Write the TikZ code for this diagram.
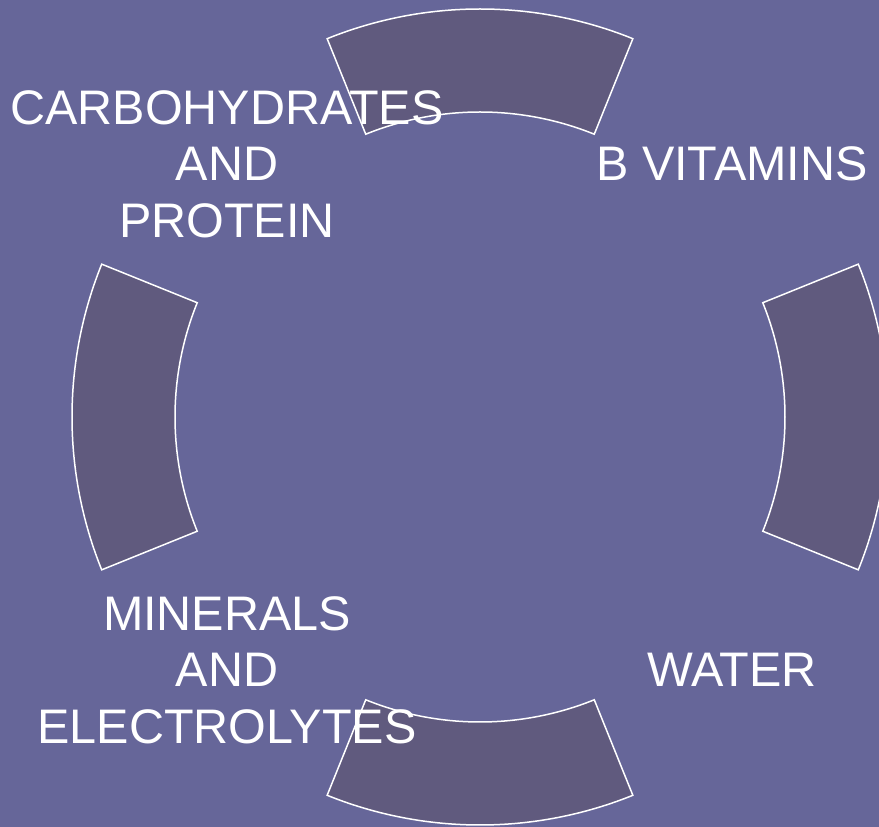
\documentclass[tikz,border=0pt]{standalone}
\usepackage{fontspec}
\setmainfont{Liberation Sans}
\usepackage{tikz}
\usetikzlibrary{calc}
\definecolor{slatebg}{RGB}{102,102,153}
\definecolor{sectorfill}{RGB}{96,90,126}

\begin{document}
\begin{tikzpicture}[x=1pt,y=1pt,
  sector/.style={fill=sectorfill,draw=white,line width=1.5pt,line join=miter},
  caption/.style={text=white,align=center,inner sep=0pt,font=\fontsize{48.5}{56.5}\selectfont}]
  \fill[slatebg] (0,0) rectangle (879,827);
  \clip (0,0) rectangle (879,827);
  \coordinate (hub) at (480,410);
  % four ring pieces, one on each side
  \foreach \mid in {0,90,180,270}
    \draw[sector] ($(hub)+({\mid-22}:408)$)
      arc[start angle=\mid-22,end angle=\mid+22,radius=408]
      -- ($(hub)+({\mid+22}:305)$)
      arc[start angle=\mid+22,end angle=\mid-22,radius=305] -- cycle;
  \node[caption] (carbs) at (227,663) {CARBOHYDRATES\\AND\\PROTEIN};
  \node[caption] (bvit) at (732,663) {B VITAMINS};
  \node[caption] (minerals) at (227,157) {MINERALS\\AND\\ELECTROLYTES};
  \node[caption] (water) at (732,157) {WATER};
\end{tikzpicture}
\end{document}
